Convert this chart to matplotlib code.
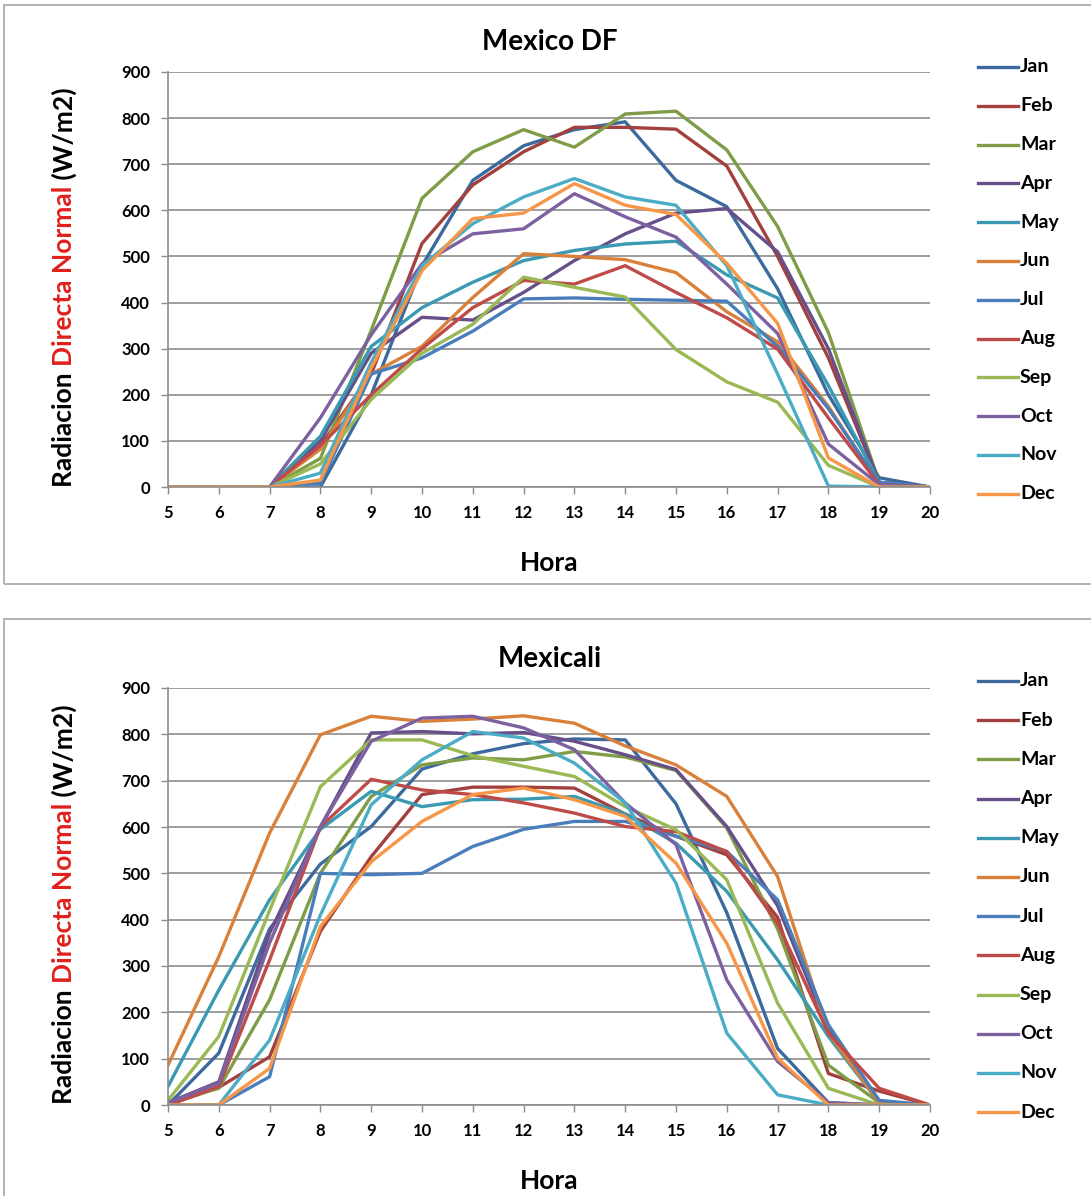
import matplotlib
matplotlib.use("Agg")
import matplotlib.pyplot as plt
from matplotlib.lines import Line2D
from matplotlib.patches import Rectangle

plt.rcParams['font.family'] = ['Lato', 'DejaVu Sans']

hours = list(range(5, 21))
months = ["Jan", "Feb", "Mar", "Apr", "May", "Jun",
          "Jul", "Aug", "Sep", "Oct", "Nov", "Dec"]
colors = ["#3D6A9E", "#A2403D", "#7F9C46", "#674F8A", "#3A9AB2", "#D9813A",
          "#4A7EBB", "#BE4B48", "#98B954", "#7D60A0", "#4BACC6", "#F79646"]

# Direct normal irradiance (W/m2), hours 5..20
df_jan = [0, 0, 0, 0, 200, 480, 665, 740, 775, 792, 665, 608, 430, 200, 20, 0]
df_feb = [0, 0, 0, 90, 245, 528, 655, 727, 780, 780, 776, 696, 500, 280, 10, 0]
df_mar = [0, 0, 0, 62, 340, 626, 727, 775, 737, 809, 815, 731, 565, 335, 10, 0]
df_apr = [0, 0, 0, 100, 290, 368, 362, 422, 491, 549, 594, 604, 510, 300, 10, 0]
df_may = [0, 0, 0, 110, 305, 389, 444, 491, 513, 527, 533, 460, 410, 220, 10, 0]
df_jun = [0, 0, 0, 82, 245, 305, 411, 506, 500, 493, 465, 380, 315, 175, 5, 0]
df_jul = [0, 0, 0, 8, 245, 280, 338, 408, 410, 407, 405, 403, 305, 170, 10, 0]
df_aug = [0, 0, 0, 90, 200, 300, 389, 448, 440, 480, 422, 367, 299, 150, 5, 0]
df_sep = [0, 0, 0, 50, 190, 290, 353, 455, 433, 412, 298, 228, 184, 47, 0, 0]
df_oct = [0, 0, 0, 150, 330, 484, 549, 560, 636, 586, 542, 440, 333, 93, 5, 0]
df_nov = [0, 0, 0, 30, 270, 480, 571, 629, 669, 629, 611, 480, 245, 2, 0, 0]
df_dec = [0, 0, 0, 15, 258, 469, 582, 594, 658, 611, 591, 485, 355, 63, 0, 0]

mx_jan = [0, 112, 380, 520, 601, 725, 758, 780, 790, 788, 650, 415, 122, 5, 0, 0]
mx_feb = [0, 38, 104, 375, 536, 670, 686, 686, 684, 628, 580, 540, 405, 68, 30, 0]
mx_mar = [5, 36, 227, 500, 666, 734, 749, 745, 763, 751, 722, 598, 380, 86, 5, 0]
mx_apr = [5, 50, 371, 600, 803, 806, 801, 804, 785, 756, 724, 601, 430, 162, 5, 0]
mx_may = [40, 248, 443, 595, 677, 644, 659, 660, 666, 628, 565, 461, 313, 148, 5, 0]
mx_jun = [86, 320, 587, 799, 839, 828, 833, 840, 824, 775, 734, 666, 493, 155, 5, 0]
mx_jul = [0, 0, 61, 500, 497, 500, 558, 595, 612, 612, 580, 547, 443, 173, 10, 0]
mx_aug = [0, 40, 313, 600, 703, 680, 670, 652, 630, 601, 590, 547, 392, 155, 36, 0]
mx_sep = [10, 148, 420, 687, 788, 788, 754, 731, 709, 644, 594, 486, 220, 36, 0, 0]
mx_oct = [5, 47, 350, 601, 785, 835, 839, 814, 767, 652, 562, 270, 94, 5, 0, 0]
mx_nov = [0, 0, 140, 410, 648, 745, 806, 792, 738, 652, 479, 155, 22, 0, 0, 0]
mx_dec = [0, 0, 79, 385, 525, 612, 670, 684, 659, 623, 522, 349, 101, 0, 0, 0]

panels = [
    ("Mexico DF", [df_jan, df_feb, df_mar, df_apr, df_may, df_jun,
                   df_jul, df_aug, df_sep, df_oct, df_nov, df_dec]),
    ("Mexicali", [mx_jan, mx_feb, mx_mar, mx_apr, mx_may, mx_jun,
                  mx_jul, mx_aug, mx_sep, mx_oct, mx_nov, mx_dec]),
]
y_ticks = list(range(0, 1000, 100))

W, H = 1091, 1196
fig = plt.figure(figsize=(W / 100, H / 100), dpi=100)
fig.patch.set_facecolor("white")

def fx(px):
    return px / W

def fy(py):
    return 1 - py / H

# pixel layout of each panel: frame top/bottom, plot top/bottom, legend start/step
layout = [
    dict(frame=(5, 584), plot=(72, 487), title=42, xlabel=563, leg0=67, step=38.8),
    dict(frame=(619, 1205), plot=(688, 1105), title=659, xlabel=1181, leg0=681, step=39.2),
]

grid_col = "#8C8C8C"
red = "#E0201B"

for (name, series), lay in zip(panels, layout):
    ft, fb = lay["frame"]
    fig.patches.append(Rectangle((fx(4), fy(fb)), fx(W + 10) - fx(4), fy(ft) - fy(fb),
                                 transform=fig.transFigure, fill=False,
                                 edgecolor="#A6A6A6", linewidth=1.2))
    pt, pb = lay["plot"]
    ax = fig.add_axes([fx(168), fy(pb), fx(930) - fx(168), fy(pt) - fy(pb)])
    for vals, c in zip(series, colors):
        ax.plot(hours, vals, color=c, linewidth=2.4, solid_joinstyle="round")
    ax.set_xlim(5, 20)
    ax.set_ylim(0, 900)
    ax.set_xticks(hours)
    ax.set_yticks(y_ticks)
    ax.set_xticklabels([str(h) for h in hours], fontsize=12, fontweight="bold")
    ax.set_yticklabels([str(v) for v in y_ticks], fontsize=12, fontweight="bold")
    ax.tick_params(axis="both", direction="out", length=5, width=1, color=grid_col)
    ax.tick_params(axis="x", pad=8)
    ax.tick_params(axis="y", pad=8)
    ax.yaxis.grid(True, color=grid_col, linewidth=1.2)
    ax.set_axisbelow(True)
    for s in ["top", "right"]:
        ax.spines[s].set_visible(False)
    for s in ["left", "bottom"]:
        ax.spines[s].set_color(grid_col)
        ax.spines[s].set_linewidth(1.2)

    fig.text(fx(550), fy(lay["title"]), name, ha="center", va="center",
             fontsize=20, fontweight="bold")
    fig.text(fx(549), fy(lay["xlabel"]), "Hora", ha="center", va="center",
             fontsize=19, fontweight="bold")

    # legend
    for i, (m, c) in enumerate(zip(months, colors)):
        yy = fy(lay["leg0"] + i * lay["step"])
        fig.lines.append(Line2D([fx(978), fx(1018)], [yy, yy], color=c,
                                linewidth=2.4, transform=fig.transFigure))
        fig.text(fx(1020), yy, m, ha="left", va="center", fontsize=14,
                 fontweight="bold")

    # rotated y-axis label with coloured middle words
    fig.canvas.draw()
    renderer = fig.canvas.get_renderer()
    pieces = [("Radiacion ", "black"), ("Directa Normal", red), (" (W/m2)", "black")]
    tmp = []
    total = 0
    for txt, c in pieces:
        t = fig.text(0, 0, txt, rotation=90, fontsize=19, fontweight="bold", color=c,
                     ha="center", va="bottom")
        h = t.get_window_extent(renderer).height
        tmp.append((t, h))
        total += h
    center_px = (pt + pb) / 2 + 8
    cur = center_px + total / 2
    for t, h in tmp:
        t.set_position((fx(64), fy(cur)))
        cur -= h

fig.savefig("out.png", dpi=100, facecolor="white")
